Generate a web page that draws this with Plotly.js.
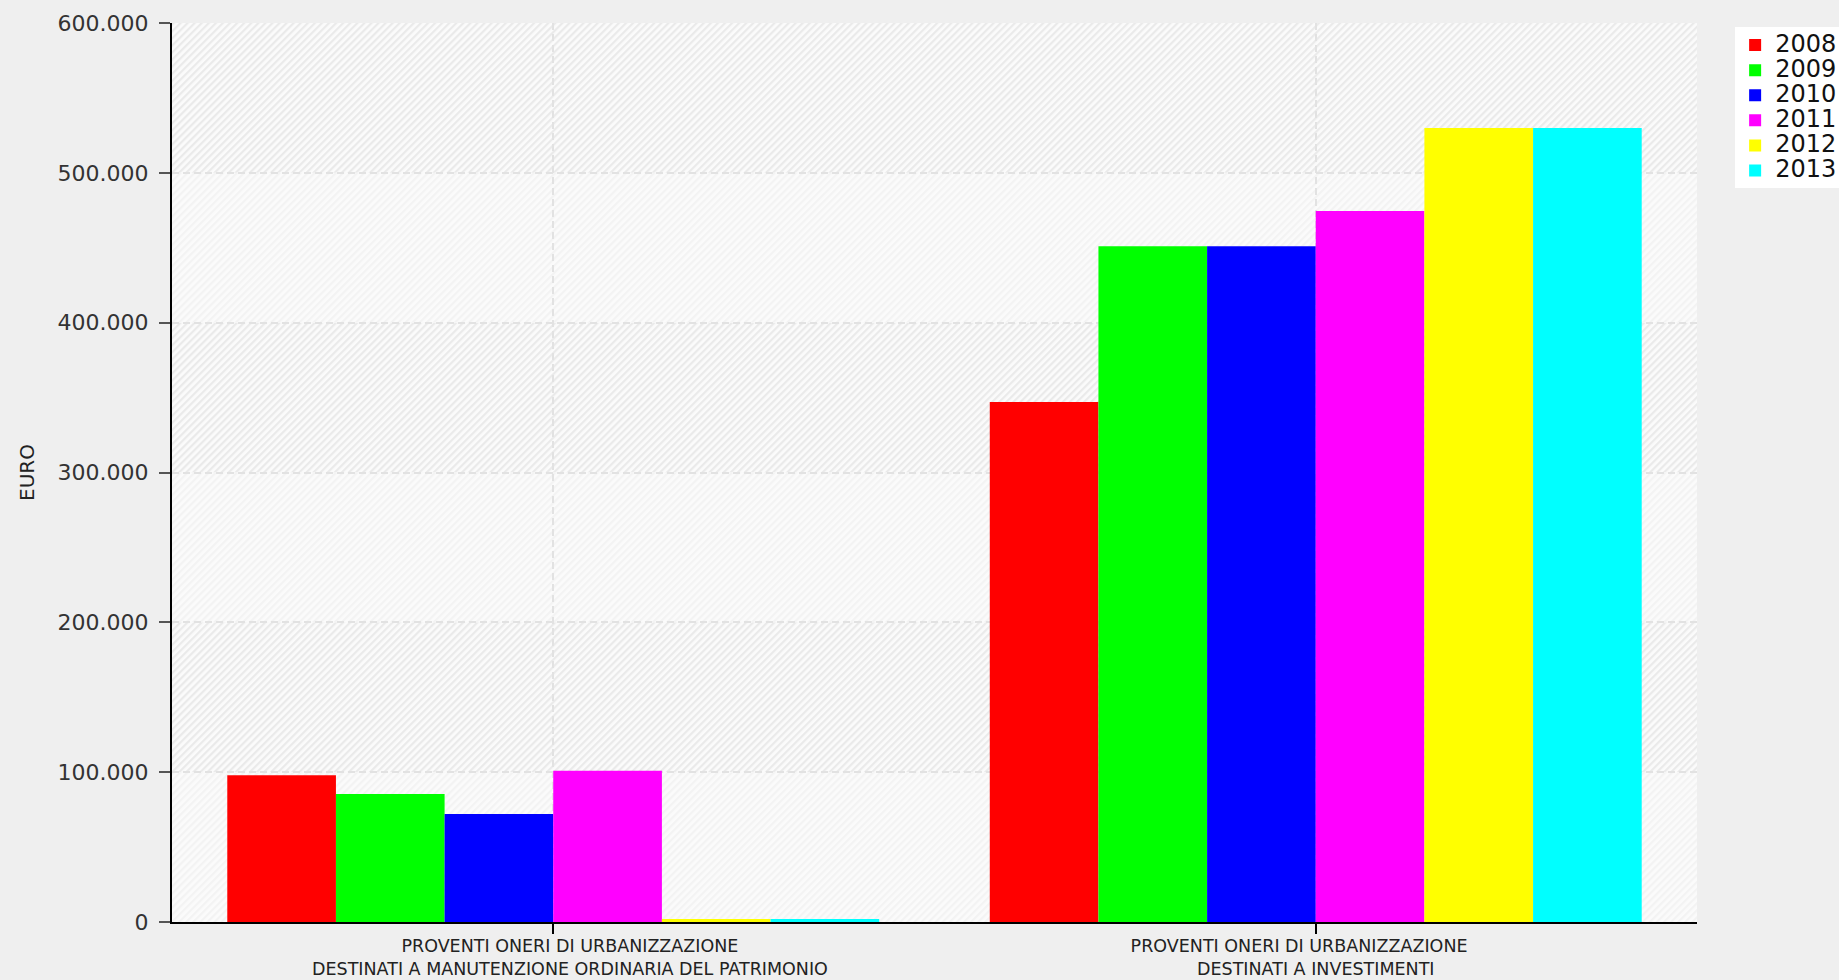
<!DOCTYPE html>
<html>
<head>
<meta charset="utf-8">
<script src="https://cdn.plot.ly/plotly-3.0.1.min.js"></script>
<style>
  html, body { margin: 0; padding: 0; background: #efefef; }
  #chart { width: 1839px; height: 980px; }
</style>
</head>
<body>
<div id="chart"></div>
<script>
// Categories (two-line labels, padded with no-break spaces) and yearly series, in euro
const NB = "\u00a0\u00a0\u00a0\u00a0\u00a0\u00a0";
const categories = [
  NB + "PROVENTI ONERI DI URBANIZZAZIONE<br>" + NB + "DESTINATI A MANUTENZIONE ORDINARIA DEL PATRIMONIO",
  "PROVENTI ONERI DI URBANIZZAZIONE" + NB + "<br>DESTINATI A INVESTIMENTI"
];
const years = ["2008", "2009", "2010", "2011", "2012", "2013"];
const values2008 = [98000, 347000];
const values2009 = [85500, 451000];
const values2010 = [72000, 451000];
const values2011 = [101000, 474500];
const values2012 = [2000, 530000];
const values2013 = [2000, 530000];
const seriesValues = [values2008, values2009, values2010, values2011, values2012, values2013];
const seriesColors = ["#ff0000", "#00ff00", "#0000ff", "#ff00ff", "#ffff00", "#00ffff"];

const yTickVals = [0, 100000, 200000, 300000, 400000, 500000, 600000];
const yTickText = ["0", "100.000", "200.000", "300.000", "400.000", "500.000", "600.000"];

// Legend labels use a larger glyph size than the compact row pitch
const traces = years.map((yr, i) => ({
  type: "bar",
  name: '<span style="font-size:24px">' + yr + '</span>',
  x: categories,
  y: seriesValues[i],
  marker: { color: seriesColors[i], line: { width: 0 } },
  hovertemplate: yr + ": %{y}<extra></extra>"
}));

// Diagonal hatch used to fill the horizontal bands of the plot area
function hatch(light, dark) {
  const svg =
    '<svg xmlns="http://www.w3.org/2000/svg" width="1525" height="150" preserveAspectRatio="none">' +
    '<defs><pattern id="h" width="5" height="5" patternUnits="userSpaceOnUse" patternTransform="rotate(45)">' +
    '<rect width="5" height="5" fill="' + light + '"/>' +
    '<rect width="2.2" height="5" fill="' + dark + '"/>' +
    '</pattern></defs>' +
    '<rect width="1525" height="150" fill="url(#h)"/></svg>';
  return "data:image/svg+xml;charset=utf-8," + encodeURIComponent(svg);
}
const strongHatch = hatch("#fbfbfb", "#eaeaea");
const softHatch = hatch("#fbfbfb", "#f3f3f3");

const bandImages = [];
for (let k = 0; k < yTickVals.length - 1; k++) {
  const top = yTickVals[k + 1];
  bandImages.push({
    source: (k % 2 === 1) ? strongHatch : softHatch,
    xref: "paper", yref: "y",
    x: 0, y: top,
    sizex: 1, sizey: top - yTickVals[k],
    xanchor: "left", yanchor: "top",
    sizing: "stretch",
    layer: "below"
  });
}

const layout = {
  width: 1839,
  height: 980,
  paper_bgcolor: "#efefef",
  plot_bgcolor: "#f8f8f8",
  margin: { l: 172, r: 142, t: 23, b: 58, autoexpand: false },
  barmode: "group",
  bargap: 0.145,
  bargroupgap: 0,
  font: { family: "DejaVu Sans", color: "#222" },
  images: bandImages,
  xaxis: {
    type: "category",
    showline: true,
    linecolor: "#000",
    linewidth: 2,
    ticks: "outside",
    ticklen: 10,
    tickwidth: 2,
    tickcolor: "#000",
    showgrid: true,
    gridcolor: "#e2e2e2",
    gridwidth: 2,
    griddash: "7px,4px",
    tickfont: { family: "DejaVu Sans", size: 17.5, color: "#222" },
    ticklabelstandoff: -3,
    fixedrange: true
  },
  yaxis: {
    range: [0, 600000],
    tickvals: yTickVals,
    ticktext: yTickText,
    showline: true,
    linecolor: "#000",
    linewidth: 2,
    ticks: "outside",
    ticklen: 11,
    tickwidth: 2,
    tickcolor: "#555",
    showgrid: true,
    gridcolor: "#e2e2e2",
    gridwidth: 2,
    griddash: "7px,4px",
    zeroline: false,
    tickfont: { family: "DejaVu Sans", size: 22, color: "#333" },
    ticklabelstandoff: 6,
    title: {
      text: "EURO",
      font: { family: "DejaVu Sans", size: 20, color: "#222" },
      standoff: 18
    },
    fixedrange: true
  },
  legend: {
    x: 1.025,
    y: 0.995,
    xanchor: "left",
    yanchor: "top",
    bgcolor: "#ffffff",
    borderwidth: 0,
    font: { family: "DejaVu Sans", size: 17, color: "#111" },
    tracegroupgap: 0
  },
  showlegend: true
};

Plotly.newPlot("chart", traces, layout, { displayModeBar: false, staticPlot: true });
</script>
</body>
</html>
